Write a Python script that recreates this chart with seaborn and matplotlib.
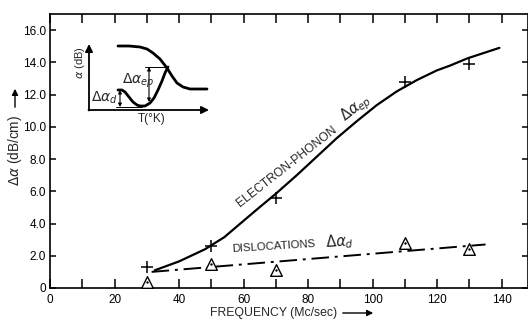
import matplotlib
matplotlib.use("Agg")
import matplotlib.pyplot as plt
import seaborn as sns
import pandas as pd

# Measured points
freq = [30, 50, 70, 110, 130]
alpha_ep = [1.3, 2.6, 5.6, 12.8, 13.9]
alpha_d = [0.4, 1.5, 1.1, 2.8, 2.4]

# Drawn trend curves
ep_curve_f = [32.5, 40, 48, 54, 59, 64, 70, 76.5, 82.7, 88.9, 95.1, 101.3,
              107.5, 113.7, 119.9, 124, 129.4, 139.3]
ep_curve_v = [1.1, 1.65, 2.4, 3.15, 4.0, 4.85, 5.85, 7.0, 8.15, 9.3, 10.35, 11.35,
              12.2, 12.9, 13.5, 13.8, 14.25, 14.9]
d_line_f = [31.5, 135]
d_line_v = [1.0, 2.7]

xticks = [0, 20, 40, 60, 80, 100, 120, 140]
yticks = [0, 2, 4, 6, 8, 10, 12, 14, 16]
ytick_labels = ["0", "2.0", "4.0", "6.0", "8.0", "10.0", "12.0", "14.0", "16.0"]

# Inset sketch: attenuation vs temperature (schematic units)
inset_T_hi = [29, 40, 51, 58, 64, 71, 78, 83, 88, 94, 101, 110, 118]
inset_a_hi = [64, 64, 63, 61, 57, 51, 42, 34, 27, 23, 21, 21, 21]
inset_T_lo = [29, 33, 36, 40, 44, 48, 51, 56, 61, 65, 69, 73, 76, 79]
inset_a_lo = [20, 20, 18, 13, 8, 5, 4, 4, 7, 12, 20, 29, 37, 43]

sns.set_theme(style="ticks")
plt.rcParams["font.family"] = ["Liberation Sans", "DejaVu Sans"]
plt.rcParams["mathtext.fontset"] = "dejavusans"

W, H = 528, 320
fig = plt.figure(figsize=(W / 100, H / 100), dpi=100)
ax = fig.add_axes([50 / W, (H - 288) / H, 477.5 / W, 274 / H])

pts = pd.DataFrame({"f": freq, "ep": alpha_ep, "d": alpha_d})
ep_df = pd.DataFrame({"f": ep_curve_f, "v": ep_curve_v})
d_df = pd.DataFrame({"f": d_line_f, "v": d_line_v})

sns.lineplot(data=ep_df, x="f", y="v", ax=ax, color="black", lw=1.6,
             sort=False, estimator=None)
sns.lineplot(data=d_df, x="f", y="v", ax=ax, color="black", lw=1.4,
             sort=False, estimator=None)
ax.lines[-1].set_dashes([9, 3, 1.5, 3])

sns.scatterplot(data=pts, x="f", y="ep", ax=ax, marker="+", s=80,
                color="black", linewidth=1.1, zorder=5)
sns.scatterplot(data=pts, x="f", y="d", ax=ax, marker="^", s=70,
                facecolor="white", edgecolor="black", linewidth=1.0, zorder=5)
sns.scatterplot(data=pts, x="f", y="d", ax=ax, marker="o", s=3,
                color="black", linewidth=0, zorder=6)

ax.set_xlim(0, 148)
ax.set_ylim(0, 17)
ax.set_xticks(xticks)
ax.set_xticks(range(10, 150, 20), minor=True)
ax.set_yticks(yticks)
ax.set_yticklabels(ytick_labels)
ax.set_xlabel("")
ax.set_ylabel("")
for s in ax.spines.values():
    s.set_visible(True)
    s.set_linewidth(1.2)
    s.set_color("black")
ax.tick_params(axis="x", which="both", direction="in", top=True, length=6.5,
               width=1.1, labelsize=8.5, pad=4, colors="black")
ax.tick_params(axis="y", which="both", direction="in", right=True, length=4,
               width=1.1, labelsize=8.5, pad=3, colors="black")

# Curve labels
ax.text(58.9, 5.0, "ELECTRON-PHONON", fontsize=8.7,
        rotation=38, rotation_mode="anchor", ha="left", va="baseline")
ax.text(91.4, 10.3, r"$\Delta\alpha_{ep}$", fontsize=10.5,
        rotation=38, rotation_mode="anchor", ha="left", va="baseline")
ax.text(56.4, 2.25, "DISLOCATIONS", fontsize=8.2,
        rotation=3.5, rotation_mode="anchor", ha="left", va="baseline")
ax.text(85.5, 2.5, r"$\Delta\alpha_{d}$", fontsize=10.5,
        rotation=3.5, rotation_mode="anchor", ha="left", va="baseline")

# Axis titles with arrows
fig.text(210 / W, (H - 313) / H, "FREQUENCY (Mc/sec)", fontsize=8.8,
         ha="left", va="center")
ax.annotate("", xy=(376, H - 313), xytext=(340, H - 313),
            xycoords="figure pixels", textcoords="figure pixels",
            arrowprops=dict(arrowstyle="-|>", color="black", lw=1.0,
                            mutation_scale=9), annotation_clip=False)
fig.text(15 / W, (H - 150) / H, r"$\Delta\alpha$ (dB/cm)", fontsize=9.8,
         rotation=90, ha="center", va="center")
ax.annotate("", xy=(15, H - 86), xytext=(15, H - 110),
            xycoords="figure pixels", textcoords="figure pixels",
            arrowprops=dict(arrowstyle="-|>", color="black", lw=1.0,
                            mutation_scale=9), annotation_clip=False)

# Inset sketch
axi = fig.add_axes([77 / W, (H - 125) / H, 138 / W, 85 / H])
axi.set_xlim(-12, 126)
axi.set_ylim(-15, 70)
axi.axis("off")
axi.patch.set_alpha(0)
sns.lineplot(x=inset_T_hi, y=inset_a_hi, ax=axi, color="black", lw=2.0,
             sort=False, estimator=None)
sns.lineplot(x=inset_T_lo, y=inset_a_lo, ax=axi, color="black", lw=2.0,
             sort=False, estimator=None)
arrow_axis = dict(arrowstyle="-|>", color="black", lw=1.3, mutation_scale=11,
                  shrinkA=0, shrinkB=0)
axi.annotate("", xy=(0, 66), xytext=(0, -0.5), arrowprops=arrow_axis)
axi.annotate("", xy=(120, 0), xytext=(-0.5, 0), arrowprops=arrow_axis)
arrow_dbl = dict(arrowstyle="<|-|>", color="black", lw=0.8, mutation_scale=5,
                 shrinkA=0, shrinkB=0)
axi.plot([27, 53], [3, 3], color="black", lw=0.7)
axi.annotate("", xy=(31, 20), xytext=(31, 3), arrowprops=arrow_dbl)
axi.plot([56, 78], [43, 43], color="black", lw=0.7)
axi.annotate("", xy=(60, 43), xytext=(60, 8), arrowprops=arrow_dbl)
axi.text(29, 12, r"$\Delta\alpha_d$", fontsize=10, ha="right", va="center")
axi.text(33, 29, r"$\Delta\alpha_{ep}$", fontsize=10, ha="left", va="center")
axi.text(-9, 47, r"$\alpha$ (dB)", fontsize=8, rotation=90,
         ha="center", va="center")
axi.text(63, -9, "T(°K)", fontsize=8.5, ha="center", va="center")

fig.savefig("out.png", dpi=100)
